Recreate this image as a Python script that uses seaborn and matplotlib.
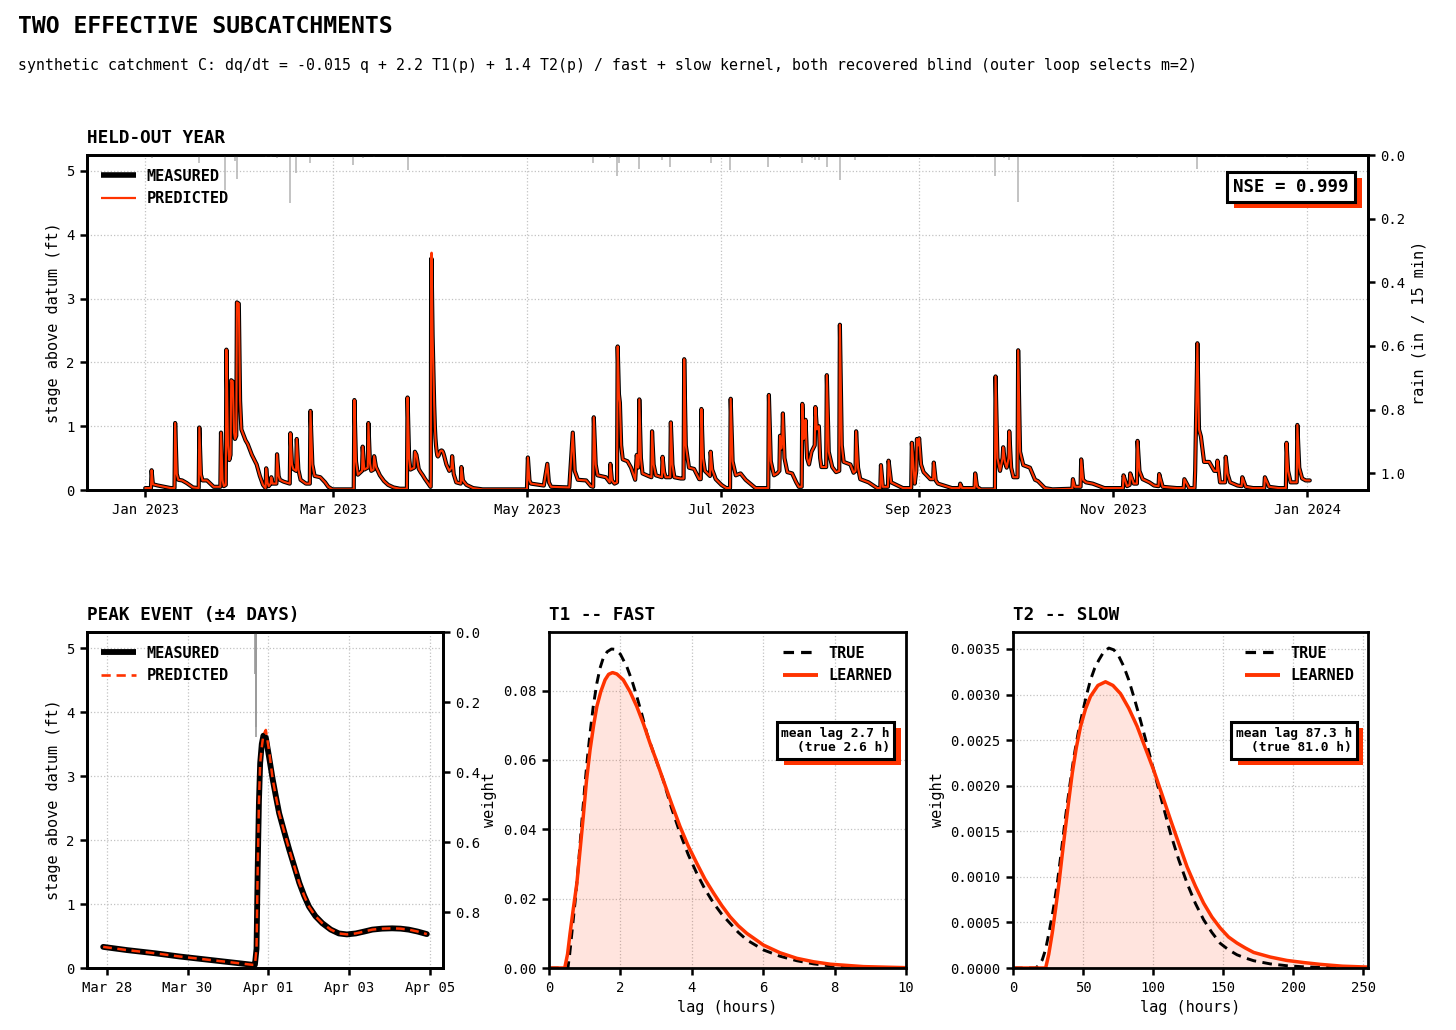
import numpy as np
import pandas as pd
import matplotlib
matplotlib.use("Agg")
import matplotlib.pyplot as plt
import matplotlib.dates as mdates
from matplotlib import patheffects as pe
from matplotlib.lines import Line2D
from matplotlib.ticker import FormatStrFormatter, MultipleLocator, FixedLocator
import seaborn as sns

# ---------------------------------------------------------------- data
YEAR_START = "2023-01-01"

# held-out year: day offset from 1 Jan 2023 and measured stage (ft)
stage_day = [
    # Jan
    0.0, 1.8, 2.0, 2.4, 4.0, 6.0, 8.0, 9.2, 9.4, 9.9, 10.4, 11.6, 13.0, 15.0,
    16.8, 17.0, 17.5, 18.0, 19.4, 21.5, 23.6, 23.8, 24.3, 24.7, 25.3, 25.5,
    26.0, 26.4, 26.8, 27.0, 27.5, 27.9, 28.2, 28.6, 28.8, 29.4, 29.8, 30.2,
    30.9, 31.5, 32.2, 33.5, 35.0, 36.0, 37.0, 37.8,
    # Feb
    38.0, 38.4, 38.8, 39.4, 39.6, 40.0, 41.2, 41.4, 41.9, 42.3, 43.5, 45.4,
    45.6, 46.1, 46.5, 47.4, 47.6, 48.1, 48.8, 50.5, 51.7, 51.9, 52.5, 53.2,
    55.0, 56.5, 57.5, 58.8,
    # Mar
    62.0, 65.5, 65.7, 66.2, 66.8, 68.1, 68.3, 68.8, 69.9, 70.1, 70.6, 71.0,
    71.7, 71.9, 72.5, 73.7, 75.0, 76.3, 78.0, 80.0, 82.2, 82.4, 82.9, 83.3,
    84.5, 84.7, 85.2, 85.91, 86.5, 87.2, 87.8, 88.5, 89.2, 89.61, 89.67,
    89.71, 89.74, 89.77, 89.80, 89.84, 89.88, 89.94, 90.02, 90.11, 90.19,
    90.27, 90.40, 90.52, 90.65, 90.77, 90.89, 91.01, 91.17, 91.34, 91.55,
    91.75, 91.95, 92.17, 92.38, 92.58, 92.82, 93.07, 93.28, 93.48, 93.70, 93.93,
    # Apr
    94.6, 95.5, 96.2, 96.4, 96.9, 97.7, 99.1, 99.3, 99.8, 100.9, 103.0, 106.0,
    # May
    119.9, 120.2, 120.7, 121.2, 125.2, 126.3, 126.8, 127.5, 133.2, 134.3,
    134.9, 135.9, 138.5, 140.0, 140.7, 140.9, 141.5, 142.1, 144.7, 145.9,
    146.1, 146.6, 147.4, 148.2, 148.4, 148.8, 149.1, 149.5, 150.0,
    # Jun
    151.5, 152.6, 153.9, 154.4, 154.8, 155.0, 155.2, 155.7, 156.2, 158.0,
    159.0, 159.2, 159.7, 160.4, 162.3, 162.5, 163.0, 163.5, 164.9, 165.1,
    165.6, 166.2, 168.2, 169.1, 169.3, 169.8, 170.8, 172.4, 174.0, 174.5,
    174.7, 175.2, 175.8, 177.4, 177.6, 178.1, 179.2, 181.0,
    # Jul
    182.5, 183.7, 183.9, 184.5, 185.5, 187.0, 188.6, 191.7, 195.7, 195.9,
    196.5, 197.5, 198.5, 199.2, 199.4, 199.8, 200.1, 200.3, 200.8, 201.7,
    203.2, 204.5, 205.3, 206.2, 206.4, 206.9, 207.2, 207.4, 207.9, 208.5,
    209.1, 209.3, 210.3, 210.5, 211.0, 211.6, 212.0,
    # Aug
    212.4, 213.9, 214.1, 214.7, 215.8, 217.0, 218.0, 218.2, 218.8, 219.4,
    221.5, 222.5, 223.1, 223.3, 223.9, 224.6, 227.2, 229.9, 230.9, 231.1,
    231.7, 233.3, 233.5, 234.3, 238.0, 240.6, 240.8, 241.7, 242.2, 242.4,
    242.8,
    # Sep
    243.1, 243.7, 244.5, 246.6, 247.5, 247.7, 248.3, 249.0, 253.4, 255.8,
    256.0, 256.6, 260.5, 260.7, 261.3, 262.5, 266.9, 267.1, 267.7, 268.5,
    269.3, 269.5, 270.0, 270.6, 271.2, 271.4, 272.0, 272.7,
    # Oct
    274.0, 274.2, 274.8, 275.8, 277.9, 279.5, 280.4, 282.6, 285.0, 291.2,
    291.4, 292.0, 293.8, 294.0, 294.6, 295.5, 297.6, 301.3,
    # Nov
    307.1, 307.3, 308.4, 309.2, 309.4, 310.5, 311.5, 311.7, 312.3, 313.3,
    315.4, 316.9, 318.3, 318.5, 319.6, 324.0, 326.2, 326.4, 327.9, 329.6,
    329.8, 330.5, 331.0, 331.6, 332.6,
    # Dec
    334.2, 335.8, 336.6, 336.8, 337.6, 339.2, 339.4, 340.0, 340.8, 343.1,
    344.4, 344.6, 345.7, 348.0, 351.5, 351.7, 353.0, 356.0, 358.3, 358.5,
    359.0, 359.8, 361.7, 361.9, 362.5, 363.4, 364.5, 365.8,
]

measured_ft = [
    # Jan
    0.03, 0.03, 0.31, 0.09, 0.07, 0.05, 0.03, 0.03, 1.05, 0.25, 0.16, 0.15, 0.11, 0.04,
    0.03, 0.98, 0.24, 0.15, 0.15, 0.05, 0.05, 0.90, 0.15, 0.06, 0.08, 2.20,
    0.70, 0.47, 0.55, 1.72, 1.70, 0.90, 0.80, 0.85, 2.94, 2.92, 1.40, 0.95,
    0.86, 0.78, 0.72, 0.55, 0.40, 0.22, 0.08, 0.03,
    # Feb
    0.34, 0.12, 0.06, 0.10, 0.20, 0.10, 0.10, 0.56, 0.22, 0.16, 0.13, 0.10,
    0.89, 0.40, 0.33, 0.30, 0.80, 0.32, 0.16, 0.10, 0.10, 1.24, 0.40, 0.22,
    0.20, 0.12, 0.05, 0.01,
    # Mar
    0.01, 0.01, 1.41, 0.45, 0.24, 0.30, 0.68, 0.32, 0.35, 1.05, 0.42, 0.30,
    0.32, 0.53, 0.36, 0.23, 0.14, 0.08, 0.04, 0.02, 0.02, 1.45, 0.50, 0.32,
    0.35, 0.60, 0.55, 0.33, 0.28, 0.23, 0.18, 0.13, 0.08, 0.05, 0.05,
    0.30, 1.59, 2.60, 3.20, 3.50, 3.63, 3.60, 3.30, 2.95, 2.68,
    2.42, 2.12, 1.85, 1.58, 1.33, 1.13, 0.96, 0.81, 0.70, 0.60,
    0.54, 0.525, 0.54, 0.57, 0.60, 0.615, 0.62, 0.615, 0.60, 0.57, 0.53,
    # Apr
    0.40, 0.30, 0.35, 0.53, 0.25, 0.12, 0.10, 0.36, 0.15, 0.08, 0.03, 0.01,
    # May
    0.01, 0.51, 0.15, 0.10, 0.07, 0.41, 0.12, 0.05, 0.04, 0.90,
    0.30, 0.16, 0.15, 0.06, 0.05, 1.14, 0.40, 0.23, 0.20, 0.12,
    0.41, 0.15, 0.10, 0.12, 2.25, 1.50, 1.37, 0.70, 0.48,
    # Jun
    0.45, 0.35, 0.16, 0.55, 0.35, 0.40, 1.42, 0.50, 0.26, 0.22,
    0.20, 0.92, 0.40, 0.23, 0.20, 0.52, 0.28, 0.20, 0.20, 1.06,
    0.40, 0.20, 0.18, 0.18, 2.05, 0.70, 0.35, 0.33, 0.17, 0.17,
    1.27, 0.50, 0.30, 0.22, 0.60, 0.32, 0.17, 0.08,
    # Jul
    0.03, 0.03, 1.43, 0.45, 0.23, 0.26, 0.16, 0.03, 0.03, 1.49,
    0.45, 0.23, 0.26, 0.30, 0.85, 0.65, 0.75, 1.20, 0.50, 0.28,
    0.26, 0.12, 0.05, 0.05, 1.35, 0.80, 0.90, 1.10, 0.50, 0.40,
    0.55, 0.60, 0.70, 1.30, 0.95, 1.00, 0.50,
    # Aug
    0.36, 0.36, 1.80, 0.60, 0.36, 0.28, 0.30, 2.59, 0.70, 0.44,
    0.40, 0.27, 0.30, 0.92, 0.35, 0.17, 0.12, 0.03, 0.03, 0.39,
    0.05, 0.05, 0.46, 0.12, 0.03, 0.03, 0.74, 0.10, 0.30, 0.80,
    0.70,
    # Sep
    0.81, 0.40, 0.28, 0.17, 0.17, 0.43, 0.15, 0.10, 0.03, 0.03,
    0.10, 0.03, 0.03, 0.26, 0.05, 0.01, 0.01, 1.78, 0.50, 0.30,
    0.50, 0.67, 0.45, 0.35, 0.50, 0.92, 0.35, 0.20,
    # Oct
    0.20, 2.19, 0.60, 0.39, 0.35, 0.16, 0.14, 0.03, 0.01, 0.02,
    0.17, 0.05, 0.05, 0.48, 0.16, 0.12, 0.10, 0.03,
    # Nov
    0.03, 0.23, 0.06, 0.08, 0.26, 0.10, 0.10, 0.77, 0.30, 0.17,
    0.12, 0.07, 0.06, 0.25, 0.05, 0.03, 0.03, 0.17, 0.03, 0.03,
    0.30, 2.30, 0.95, 0.84, 0.44,
    # Dec
    0.44, 0.30, 0.30, 0.46, 0.12, 0.12, 0.52, 0.25, 0.12, 0.07,
    0.06, 0.20, 0.05, 0.03, 0.03, 0.20, 0.05, 0.03, 0.03, 0.74,
    0.30, 0.12, 0.12, 1.02, 0.35, 0.18, 0.15, 0.15,
]

# model prediction differs visibly only at the largest peak
predicted_fix_day = [89.84, 89.88, 89.94, 90.02]
predicted_fix_ft = [3.45, 3.64, 3.72, 3.40]

# rainfall (in / 15 min) drawn hanging from the top of the year panel
rain_day = [2.0, 17.0, 25.2, 28.3, 28.8, 37.8, 39.4, 41.4, 45.5, 47.4, 51.8,
            65.4, 68.3, 71.9, 82.4, 94.1, 99.1, 140.6, 146.1, 148.3, 148.9,
            155.2, 162.3, 164.8, 177.6, 183.7, 195.7, 199.4, 206.4, 209.3,
            210.5, 211.6, 214.0, 218.1, 223.0, 233.5, 243.0, 247.7, 256.0,
            260.7, 266.9, 269.6, 271.2, 274.1, 294.0, 311.6, 318.5, 330.3,
            336.8, 339.4, 351.7, 358.5, 361.9]
rain_in = [0.010, 0.025, 0.110, 0.020, 0.075, 0.005, 0.005, 0.008, 0.150,
           0.055, 0.026, 0.030, 0.008, 0.006, 0.047, 0.005, 0.005, 0.026,
           0.010, 0.066, 0.026, 0.045, 0.015, 0.037, 0.026, 0.047, 0.037,
           0.010, 0.026, 0.008, 0.015, 0.015, 0.037, 0.077, 0.015, 0.005,
           0.004, 0.005, 0.004, 0.005, 0.066, 0.010, 0.015, 0.147, 0.005,
           0.008, 0.005, 0.045, 0.005, 0.005, 0.005, 0.010, 0.005]

# rain burst of the peak event (15-min values)
event_rain_day = [89.675, 89.685, 89.695, 89.705]
event_rain_in = [0.12, 0.30, 0.27, 0.10]
event_half_window = 4.1
peak_ticks = ["2023-03-28", "2023-03-30", "2023-04-01", "2023-04-03", "2023-04-05"]

# kernels: lag (hours) and weight
t1_true_h = [0.0, 0.53, 0.58, 0.64, 0.73, 0.82, 0.91, 1.01, 1.08, 1.15, 1.24, 1.34,
             1.43, 1.52, 1.63, 1.75, 1.85, 2.00, 2.18, 2.32, 2.46, 2.60, 2.74,
             2.97, 3.20, 3.43, 3.67, 3.90, 4.14, 4.37, 4.61, 4.84, 5.07, 5.30,
             5.54, 6.01, 6.47, 6.94, 7.41, 7.88, 8.81, 10.0]
t1_true_w = [0.0, 0.0, 0.004, 0.0100, 0.019, 0.0292, 0.041, 0.0533, 0.061, 0.0677,
             0.0755, 0.0821, 0.0865, 0.0894, 0.0912, 0.0920, 0.0919, 0.0905,
             0.0869, 0.0830, 0.0783, 0.0732, 0.0677, 0.0608, 0.0542, 0.0462,
             0.0389, 0.0327, 0.0273, 0.0227, 0.0187, 0.0155, 0.0129, 0.0103,
             0.0081, 0.0052, 0.0034, 0.0021, 0.0012, 0.0006, 0.0001, 0.0]
t1_learned_h = [0.0, 0.44, 0.52, 0.59, 0.68, 0.78, 0.87, 0.96, 1.05, 1.15, 1.25,
                1.34, 1.45, 1.57, 1.67, 1.78, 1.90, 2.08, 2.27, 2.46, 2.65, 2.83,
                3.02, 3.20, 3.43, 3.67, 3.90, 4.14, 4.37, 4.61, 4.84, 5.07, 5.30,
                5.54, 6.01, 6.47, 6.94, 7.41, 7.88, 8.81, 10.0]
t1_learned_w = [0.0, 0.0, 0.004, 0.0100, 0.017, 0.0244, 0.034, 0.0437, 0.054,
                0.0629, 0.070, 0.0754, 0.0797, 0.0831, 0.0847, 0.0852, 0.0848,
                0.0831, 0.0797, 0.0754, 0.0703, 0.0648, 0.0595, 0.0542, 0.0475,
                0.0408, 0.0352, 0.0302, 0.0256, 0.0216, 0.0180, 0.0148, 0.0122,
                0.0100, 0.0066, 0.0044, 0.0028, 0.0018, 0.0011, 0.0004, 0.0001]

t2_true_h = [0.0, 16.2, 18.5, 20.9, 23.2, 25.6, 28.6, 31.6, 34.5, 37.5, 40.5, 43.5,
             46.5, 49.4, 52.4, 55.3, 58.3, 61.3, 64.8, 68.4, 72.0, 75.5, 79.0,
             82.6, 86.7, 90.9, 95.6, 100.4, 106.4, 112.3, 118.2, 124.2, 130.1,
             136.0, 141.9, 147.9, 153.8, 159.8, 165.7, 171.7, 183.6, 195.4,
             207.3, 219.2, 253.3]
t2_true_w = [0.0, 0.0, 0.00003, 0.00009, 0.00020, 0.00038, 0.00063, 0.00093,
             0.00128, 0.00166, 0.00200, 0.00232, 0.00258, 0.00279, 0.00299,
             0.00316, 0.00329, 0.00338, 0.00347, 0.00351, 0.00349, 0.00342,
             0.00331, 0.00316, 0.00295, 0.00272, 0.00245, 0.00217, 0.00182,
             0.00148, 0.00119, 0.00093, 0.00071, 0.00053, 0.00039, 0.00027,
             0.00020, 0.000145, 0.00011, 0.00008, 0.000045, 0.000025,
             0.000013, 0.000007, 0.000001]
t2_learned_h = [0.0, 23.3, 25.5, 28.0, 30.4, 32.8, 35.1, 37.5, 39.9, 42.3, 45.2,
                48.2, 51.7, 55.3, 60.6, 66.0, 71.3, 76.7, 82.6, 88.6, 94.5, 100.4,
                106.4, 112.3, 118.2, 124.2, 130.1, 136.0, 141.9, 147.9, 153.8,
                159.8, 165.7, 171.7, 183.6, 195.4, 207.3, 219.2, 235.0, 253.3]
t2_learned_w = [0.0, 0.0, 0.00015, 0.000384, 0.00065, 0.000932, 0.00124, 0.00155,
                0.00185, 0.00214, 0.00242, 0.00265, 0.00284, 0.00298, 0.00310,
                0.00314, 0.00310, 0.00301, 0.00285, 0.00265, 0.00241, 0.00217,
                0.00190, 0.00163, 0.00137, 0.00111, 0.00090, 0.000712, 0.00056,
                0.000438, 0.00034, 0.000274, 0.00022, 0.000171, 0.00012,
                0.000083, 0.00006, 0.00004, 0.00002, 0.00001]

nse_text = "NSE = 0.999"
t1_note = "mean lag 2.7 h\n(true 2.6 h)"
t2_note = "mean lag 87.3 h\n(true 81.0 h)"

# ---------------------------------------------------------------- style
RED = "#ff3300"
GRAY = "#b3b3b3"
sns.set_theme(style="ticks")
plt.rcParams["font.family"] = ["DejaVu Sans Mono", "DejaVu Sans"]
plt.rcParams["axes.edgecolor"] = "black"
plt.rcParams["axes.linewidth"] = 2.0
plt.rcParams["xtick.color"] = "black"
plt.rcParams["ytick.color"] = "black"
plt.rcParams["text.color"] = "black"
plt.rcParams["axes.labelcolor"] = "black"
plt.rcParams["axes.titlecolor"] = "black"

base = pd.Timestamp(YEAR_START)
df_year = pd.DataFrame({
    "time": base + pd.to_timedelta(stage_day, unit="D"),
    "day": stage_day,
    "measured": measured_ft,
})
df_year["predicted"] = df_year["measured"]
for d, v in zip(predicted_fix_day, predicted_fix_ft):
    df_year.loc[np.isclose(df_year["day"], d), "predicted"] = v
rain_times = base + pd.to_timedelta(rain_day, unit="D")

peak_day = df_year.loc[df_year["measured"].idxmax(), "day"]
df_evt = df_year[(df_year["day"] >= peak_day - event_half_window) &
                 (df_year["day"] <= peak_day + event_half_window)]
evt_rain_times = base + pd.to_timedelta(event_rain_day, unit="D")

fig = plt.figure(figsize=(14.56, 10.30), dpi=100)
ax_top = fig.add_axes([0.05975, 0.52427, 0.87981, 0.32524])
ax_pk = fig.add_axes([0.05975, 0.06019, 0.24451, 0.32621])
ax_t1 = fig.add_axes([0.37706, 0.06019, 0.24519, 0.32621])
ax_t2 = fig.add_axes([0.69574, 0.06019, 0.24382, 0.32621])


def style(ax, grid=True):
    for s in ax.spines.values():
        s.set_linewidth(2.0)
        s.set_color("black")
    ax.tick_params(direction="out", length=5, width=1.8, labelsize=10,
                   colors="black", pad=4)
    if grid:
        ax.grid(True, linestyle=":", color="#c2c2c2", linewidth=0.9)
    else:
        ax.grid(False)


def shadow_box(t):
    t.get_bbox_patch().set_path_effects([
        pe.SimplePatchShadow(offset=(5, -4.5), shadow_rgbFace=RED, alpha=1.0),
        pe.Normal()])


legend_kw = dict(frameon=False, prop={"weight": "bold", "size": 11},
                 handlelength=2.3, handletextpad=0.7, labelspacing=0.5)


def handle(color, lw, dashes=None):
    h = Line2D([], [], color=color, linewidth=lw, solid_capstyle="butt",
               dash_capstyle="butt")
    if dashes is not None:
        h.set_dashes(dashes)
    return h


# ---------------------------------------------------------------- top panel
sns.lineplot(data=df_year, x="time", y="measured", ax=ax_top, color="black",
             linewidth=3.0, estimator=None, sort=False, solid_joinstyle="round",
             legend=False)
sns.lineplot(data=df_year, x="time", y="predicted", ax=ax_top, color=RED,
             linewidth=1.5, estimator=None, sort=False, solid_joinstyle="round",
             legend=False)
style(ax_top)
ax_top.set_ylim(0, 5.25)
ax_top.yaxis.set_major_locator(MultipleLocator(1))
ax_top.xaxis.set_major_locator(mdates.MonthLocator(bymonth=(1, 3, 5, 7, 9, 11)))
ax_top.xaxis.set_major_formatter(mdates.DateFormatter("%b %Y"))
ax_top.set_xlabel("")
ax_top.set_ylabel("stage above datum (ft)", fontsize=11)
ax_top.set_title("HELD-OUT YEAR", loc="left", fontweight="bold", fontsize=12.7, pad=9)
ax_top.legend([handle("black", 4.0), handle(RED, 1.6)], ["MEASURED", "PREDICTED"],
              loc="upper left", borderaxespad=0.5, **legend_kw)

ax_rain = ax_top.twinx()
ax_rain.vlines(rain_times, 0, rain_in, color=GRAY, linewidth=1.1)
style(ax_rain, grid=False)
ax_rain.set_ylim(1.053, 0)
ax_rain.yaxis.set_major_locator(MultipleLocator(0.2))
ax_rain.yaxis.set_major_formatter(FormatStrFormatter("%.1f"))
ax_rain.set_ylabel("rain (in / 15 min)", fontsize=11)

t = ax_top.text(0.985, 0.904, nse_text, transform=ax_top.transAxes, ha="right",
                va="center", fontsize=12.5, fontweight="bold", zorder=10,
                bbox=dict(boxstyle="square,pad=0.35", fc="white", ec="black", lw=2.2))
shadow_box(t)

# ---------------------------------------------------------------- peak event
sns.lineplot(data=df_evt, x="time", y="measured", ax=ax_pk, color="black",
             linewidth=4.2, estimator=None, sort=False, solid_joinstyle="round",
             legend=False)
pk_pred = sns.lineplot(data=df_evt, x="time", y="predicted", ax=ax_pk, color=RED,
                       linewidth=1.8, estimator=None, sort=False, legend=False)
ax_pk.get_lines()[-1].set_dashes((3.5, 2.2))
style(ax_pk)
ax_pk.set_ylim(0, 5.25)
ax_pk.yaxis.set_major_locator(MultipleLocator(1))
ax_pk.xaxis.set_major_locator(FixedLocator(mdates.date2num(pd.to_datetime(peak_ticks))))
ax_pk.xaxis.set_major_formatter(mdates.DateFormatter("%b %d"))
ax_pk.set_xlabel("")
ax_pk.set_ylabel("stage above datum (ft)", fontsize=11)
ax_pk.set_title("PEAK EVENT (\u00b14 DAYS)", loc="left", fontweight="bold",
                fontsize=12.7, pad=9)
ax_pk.legend([handle("black", 4.2), handle(RED, 1.9, (3.5, 2.2))],
             ["MEASURED", "PREDICTED"], loc="upper left", borderaxespad=0.5,
             **legend_kw)

ax_pk_rain = ax_pk.twinx()
ax_pk_rain.vlines(evt_rain_times, 0, event_rain_in, color="#9a9a9a", linewidth=1.2)
style(ax_pk_rain, grid=False)
ax_pk_rain.set_ylim(0.96, 0)
ax_pk_rain.yaxis.set_major_locator(MultipleLocator(0.2))
ax_pk_rain.yaxis.set_major_formatter(FormatStrFormatter("%.1f"))


# ---------------------------------------------------------------- kernels
def kernel_panel(ax, th, tw, lh, lw, title, note, xmax, ymax, fmt, xstep):
    df_t = pd.DataFrame({"lag": th, "w": tw})
    df_l = pd.DataFrame({"lag": lh, "w": lw})
    ax.fill_between(df_l["lag"], 0, df_l["w"], color=RED, alpha=0.13, lw=0)
    sns.lineplot(data=df_t, x="lag", y="w", ax=ax, color="black", linewidth=2.1,
                 estimator=None, sort=False, legend=False)
    ax.get_lines()[-1].set_dashes((3.3, 2.2))
    sns.lineplot(data=df_l, x="lag", y="w", ax=ax, color=RED, linewidth=2.5,
                 estimator=None, sort=False, legend=False)
    style(ax)
    ax.set_xlim(0, xmax)
    ax.set_ylim(0, ymax)
    ax.xaxis.set_major_locator(MultipleLocator(xstep))
    ax.yaxis.set_major_formatter(FormatStrFormatter(fmt))
    ax.set_xlabel("lag (hours)", fontsize=11)
    ax.set_ylabel("weight", fontsize=11)
    ax.set_title(title, loc="left", fontweight="bold", fontsize=12.7, pad=9)
    ax.legend([handle("black", 2.3, (3.3, 2.2)), handle(RED, 2.8)],
              ["TRUE", "LEARNED"], loc="upper right", borderaxespad=0.5,
              **legend_kw)
    tt = ax.text(0.955, 0.718, note, transform=ax.transAxes, ha="right", va="top",
                 multialignment="right", fontsize=9.3, fontweight="bold", zorder=10,
                 linespacing=1.15,
                 bbox=dict(boxstyle="square,pad=0.35", fc="white", ec="black", lw=2.2))
    shadow_box(tt)


kernel_panel(ax_t1, t1_true_h, t1_true_w, t1_learned_h, t1_learned_w,
             "T1 -- FAST", t1_note, 10, 0.0969, "%.2f", 2)
ax_t1.yaxis.set_major_locator(MultipleLocator(0.02))
kernel_panel(ax_t2, t2_true_h, t2_true_w, t2_learned_h, t2_learned_w,
             "T2 -- SLOW", t2_note, 253.3, 0.003686, "%.4f", 50)
ax_t2.yaxis.set_major_locator(MultipleLocator(0.0005))

# ---------------------------------------------------------------- titles
fig.text(0.0124, 0.968, "TWO EFFECTIVE SUBCATCHMENTS", fontsize=16.7,
         fontweight="bold", ha="left", va="baseline")
fig.text(0.0124, 0.932,
         "synthetic catchment C: dq/dt = -0.015 q + 2.2 T1(p) + 1.4 T2(p) / "
         "fast + slow kernel, both recovered blind (outer loop selects m=2)",
         fontsize=10.7, ha="left", va="baseline")

fig.savefig("out.png", dpi=100, facecolor="white")
